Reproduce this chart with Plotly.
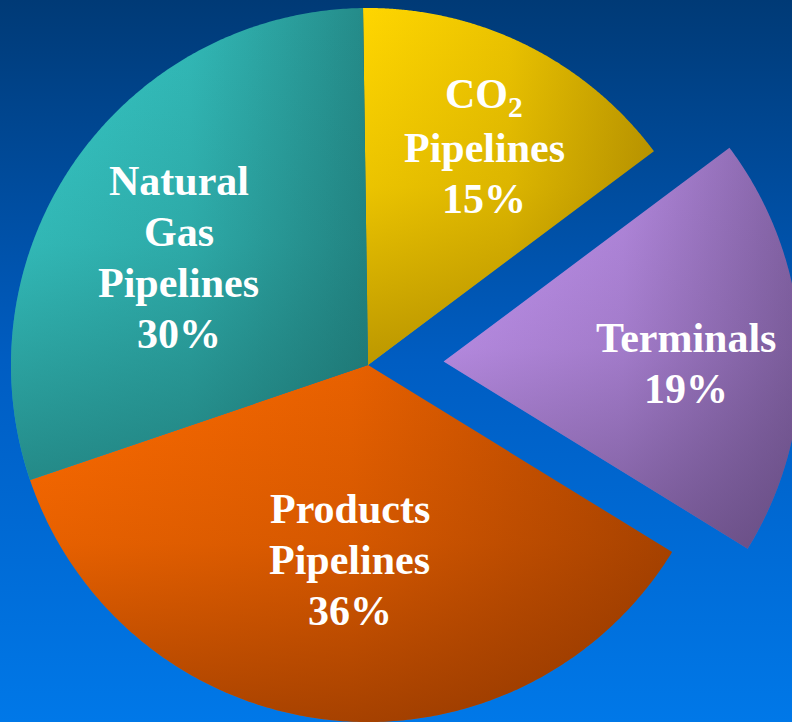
import numpy as np
import plotly.graph_objects as go

# ---- data ----
categories = ["CO2 Pipelines", "Terminals", "Products Pipelines", "Natural Gas Pipelines"]
label_lines = [["CO<sub>2</sub>", "Pipelines"], ["Terminals"], ["Products", "Pipelines"], ["Natural", "Gas", "Pipelines"]]
values = [15, 19, 36, 30]
pct_text = ["15%", "19%", "36%", "30%"]

# ---- style ----
pulls = [0, 0.212, 0, 0]
light = ["#FFD600", "#C898F6", "#FF6C00", "#38CCCA"]
dark = ["#947200", "#56406E", "#7E2E00", "#186260"]
label_r = [0.69, 0.68, 0.55, 0.61]
label_dang = [-2.0, -3.0, 1.0, 5.5]
FONT_SIZE = 42
LINE_STEP = 51

R = 357.0
start_deg = 90.8
X0, X1 = -368, 424
Y0, Y1 = -357, 365


def hex2rgb(h):
    h = h.lstrip("#")
    return tuple(int(h[i:i + 2], 16) for i in (0, 2, 4))


def mix(a, b, t):
    ra, rb = hex2rgb(a), hex2rgb(b)
    return "rgb(%d,%d,%d)" % tuple(round(ra[k] * (1 - t) + rb[k] * t) for k in range(3))


def rgba(h, a):
    r, g, b = hex2rgb(h)
    return "rgba(%d,%d,%d,%.3f)" % (r, g, b, a)


fig = go.Figure()

# background gradient
fig.add_trace(go.Scatter(
    x=[X0, X1, X1, X0, X0], y=[Y0, Y0, Y1, Y1, Y0],
    fill="toself", mode="none", hoverinfo="skip", showlegend=False,
    fillgradient=dict(type="vertical",
                      colorscale=[[0, "#0078E8"], [0.5, "#005DC2"], [1, "#003A76"]],
                      start=Y0, stop=Y1)))

total = float(sum(values))
cum = 0.0
annotations = []
for i, v in enumerate(values):
    a0 = np.radians(start_deg - cum / total * 360.0)
    a1 = np.radians(start_deg - (cum + v) / total * 360.0)
    cum += v
    mid = 0.5 * (a0 + a1)
    ox = pulls[i] * R * np.cos(mid)
    oy = pulls[i] * R * np.sin(mid)
    t = np.linspace(a0, a1, 240)
    xs = np.concatenate([[ox], ox + R * np.cos(t), [ox]])
    ys = np.concatenate([[oy], oy + R * np.sin(t), [oy]])
    # base: horizontal gradient light -> darker (eased)
    fig.add_trace(go.Scatter(
        x=xs, y=ys, fill="toself", mode="none", hoverinfo="skip", showlegend=False,
        fillgradient=dict(type="horizontal",
                          colorscale=[[0, light[i]], [0.5, mix(light[i], dark[i], 0.18)],
                                      [1, mix(light[i], dark[i], 0.62)]],
                          start=float(xs.min()), stop=float(xs.max()))))
    # overlay: vertical darkening toward bottom
    fig.add_trace(go.Scatter(
        x=xs, y=ys, fill="toself", mode="none", hoverinfo="skip", showlegend=False,
        fillgradient=dict(type="vertical",
                          colorscale=[[0, rgba(dark[i], 0.62)], [0.5, rgba(dark[i], 0.18)],
                                      [1, rgba(dark[i], 0.0)]],
                          start=float(ys.min()), stop=float(ys.max()))))
    la = mid + np.radians(label_dang[i])
    lx = ox + label_r[i] * R * np.cos(la)
    ly = oy + label_r[i] * R * np.sin(la)
    lines = label_lines[i] + [pct_text[i]]
    n = len(lines)
    for k, line in enumerate(lines):
        annotations.append(dict(
            x=lx, y=ly + ((n - 1) / 2.0 - k) * LINE_STEP, xref="x", yref="y",
            showarrow=False, text=line,
            align="center", xanchor="center", yanchor="middle",
            font=dict(family="Liberation Serif, Times New Roman, serif", size=FONT_SIZE,
                      color="white", weight="bold")))

fig.update_layout(
    width=792, height=722,
    margin=dict(l=0, r=0, t=0, b=0),
    paper_bgcolor="#005DC2", plot_bgcolor="#005DC2",
    xaxis=dict(range=[X0, X1], visible=False, fixedrange=True),
    yaxis=dict(range=[Y0, Y1], visible=False, fixedrange=True),
    annotations=annotations,
    showlegend=False,
)

fig.write_html("out.html")
